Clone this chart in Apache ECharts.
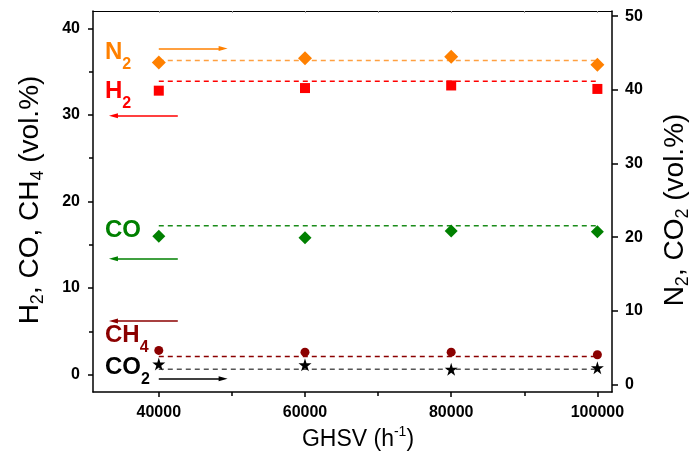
<!DOCTYPE html>
<html>
<head>
<meta charset="utf-8">
<script src="https://cdn.jsdelivr.net/npm/echarts@6/dist/echarts.min.js"></script>
<style>
  html, body { margin: 0; padding: 0; background: #fff; }
  #chart { width: 700px; height: 455px; }
</style>
</head>
<body>
<div id="chart"></div>
<script>
// GHSV values (h-1)
var ghsv = [40000, 60000, 80000, 100000];
// left axis: H2, CO, CH4 (vol.%)
var h2 = [32.8, 33.1, 33.4, 33.0];
var co = [16.0, 15.8, 16.6, 16.5];
var ch4 = [2.8, 2.6, 2.6, 2.3];
// right axis: N2, CO2 (vol.%)
var n2 = [43.7, 44.3, 44.5, 43.4];
var co2 = [2.8, 2.7, 2.1, 2.3];
// dashed guide levels
var h2Level = 33.9, coLevel = 17.2, ch4Level = 2.1, n2Level = 44.0, co2Level = 2.1;
// arrows [start, end] in data units
var arrowN2 = [[40000, 45.6], [48800, 45.6]];
var arrowH2 = [[42600, 29.9], [33800, 29.9]];
var arrowCO = [[42600, 13.4], [33800, 13.4]];
var arrowCH4 = [[42600, 6.2], [33800, 6.2]];
var arrowCO2 = [[40000, 0.8], [48800, 0.8]];
// ticks
var xMajor = [40000, 60000, 80000, 100000];
var xMinor = [50000, 70000, 90000];
var xTop = [40000, 50000, 60000, 70000, 80000, 90000, 100000];
var leftMajor = [0, 10, 20, 30, 40];
var leftMinor = [5, 15, 25, 35];
var rightMajor = [0, 10, 20, 30, 40, 50];

var FONT = "'Liberation Sans', Arial, sans-serif";
var starPath = 'path://M50,0 L61,35 L98,35 L68,57 L79,91 L50,70 L21,91 L32,57 L2,35 L39,35 Z';
var arrowHead = 'path://M5,0 L10,16 L0,16 Z';

var myChart = echarts.init(document.getElementById('chart'), null, { renderer: 'canvas' });

function pts(vals) {
  return ghsv.map(function (x, i) { return [x, vals[i]]; });
}
function dashLine(level, color, yIdx) {
  return {
    type: 'line', yAxisIndex: yIdx, silent: true, symbol: 'none', z: 2,
    data: [[ghsv[0], level], [ghsv[ghsv.length - 1], level]],
    lineStyle: { color: color, width: 1.5, type: [5, 4] }
  };
}
function marks(vals, symbol, size, color, yIdx) {
  return {
    type: 'scatter', yAxisIndex: yIdx, symbol: symbol, symbolSize: size, z: 3,
    data: pts(vals), itemStyle: { color: color, opacity: 1 }
  };
}
function arrow(coords, color, yIdx) {
  return {
    type: 'lines', coordinateSystem: 'cartesian2d', xAxisIndex: 0, yAxisIndex: yIdx,
    symbol: ['none', arrowHead], symbolSize: [1, [5, 9]], z: 4, silent: true,
    lineStyle: { color: color, width: 1.5, opacity: 1, curveness: 0 },
    data: [{ coords: coords }]
  };
}
function label(text, x, y, color) {
  return {
    type: 'text', x: x, y: y, silent: true,
    style: {
      text: text, fill: color, align: 'left', verticalAlign: 'middle',
      textAlign: 'left', textVerticalAlign: 'middle',
      rich: {
        m: { fontSize: 24, fontWeight: 'bold', fontFamily: FONT, fill: color },
        s: { fontSize: 16, fontWeight: 'bold', fontFamily: FONT, fill: color, padding: [26, 0, 0, 0] }
      }
    }
  };
}
function axisName(text, x, y, rot) {
  return {
    type: 'text', x: x, y: y, rotation: rot, silent: true,
    style: {
      text: text, fill: '#000', align: 'center', verticalAlign: 'middle',
      textAlign: 'center', textVerticalAlign: 'middle',
      rich: {
        m: { fontSize: 28, fontFamily: FONT, fill: '#000' },
        s: { fontSize: 18, fontFamily: FONT, fill: '#000', padding: [16, 0, 0, 0] },
        x: { fontSize: 23, fontFamily: FONT, fill: '#000' },
        u: { fontSize: 14, fontFamily: FONT, fill: '#000', padding: [0, 0, 16, 0] }
      }
    }
  };
}

var lineAx = { show: true, onZero: false, lineStyle: { color: '#000', width: 1.5 } };
var tickLbl = { fontSize: 16, fontWeight: 'bold', fontFamily: FONT, color: '#000' };
function plain(v) { return String(v); }

option = {
  animation: false,
  backgroundColor: '#fff',
  grid: { left: 93, right: 88, top: 11, bottom: 63, containLabel: false },
  xAxis: [
    {
      type: 'value', position: 'bottom', min: 31000, max: 102000,
      axisLine: lineAx, splitLine: { show: false },
      axisTick: { show: true, length: 5, customValues: xMajor, lineStyle: { color: '#000', width: 1.5 } },
      axisLabel: Object.assign({ margin: 13, customValues: xMajor, formatter: plain }, tickLbl)
    },
    {
      type: 'value', position: 'bottom', min: 31000, max: 102000,
      axisLine: { show: false, onZero: false }, splitLine: { show: false }, axisLabel: { show: false },
      axisTick: { show: true, length: 4, customValues: xMinor, lineStyle: { color: '#000', width: 1.5 } }
    },
    {
      type: 'value', position: 'top', min: 31000, max: 102000,
      axisLine: { show: true, onZero: false, lineStyle: { color: '#000', width: 1.2 } },
      splitLine: { show: false }, axisLabel: { show: false },
      axisTick: { show: true, inside: true, length: 2, customValues: xTop, lineStyle: { color: '#999', width: 1 } }
    }
  ],
  yAxis: [
    {
      type: 'value', position: 'left', min: -2, max: 42,
      axisLine: lineAx, splitLine: { show: false },
      axisTick: { show: true, length: 5, customValues: leftMajor, lineStyle: { color: '#000', width: 1.5 } },
      axisLabel: Object.assign({ margin: 13, customValues: leftMajor, formatter: plain }, tickLbl)
    },
    {
      type: 'value', position: 'right', min: -1, max: 50.7,
      axisLine: lineAx, splitLine: { show: false },
      axisTick: { show: true, length: 6, customValues: rightMajor, lineStyle: { color: '#000', width: 1.5 } },
      axisLabel: Object.assign({ margin: 13, customValues: rightMajor, formatter: plain }, tickLbl)
    },
    {
      type: 'value', position: 'left', min: -2, max: 42,
      axisLine: { show: false, onZero: false }, splitLine: { show: false }, axisLabel: { show: false },
      axisTick: { show: true, length: 4, customValues: leftMinor, lineStyle: { color: '#000', width: 1.5 } }
    }
  ],
  series: [
    dashLine(n2Level, '#ffa040', 1),
    dashLine(h2Level, '#ff0000', 0),
    dashLine(coLevel, '#1a8c1a', 0),
    dashLine(ch4Level, '#8b0000', 0),
    dashLine(co2Level, '#555555', 1),
    marks(n2, 'diamond', [14, 14], '#ff8000', 1),
    marks(h2, 'rect', [10, 10], '#ff0000', 0),
    marks(co, 'diamond', [13, 13], '#008000', 0),
    marks(ch4, 'circle', 9, '#8b0000', 0),
    marks(co2, starPath, 13, '#000000', 1),
    arrow(arrowN2, '#ff8000', 1),
    arrow(arrowH2, '#ff0000', 0),
    arrow(arrowCO, '#008000', 0),
    arrow(arrowCH4, '#8b0000', 0),
    arrow(arrowCO2, '#000000', 1)
  ],
  graphic: [
    label('{m|N}{s|2}', 105, 52, '#ff8000'),
    label('{m|H}{s|2}', 105, 91, '#ff0000'),
    label('{m|CO}', 105, 230, '#008000'),
    label('{m|CH}{s|4}', 105, 335, '#8b0000'),
    label('{m|CO}{s|2}', 105, 367, '#000000'),
    axisName('{m|H}{s|2}{m|, CO, CH}{s|4}{m| (vol.%)}', 30, 200, Math.PI / 2),
    axisName('{m|N}{s|2}{m|, CO}{s|2}{m| (vol.%)}', 675, 210, Math.PI / 2),
    axisName('{x|GHSV (h}{u|-1}{x|)}', 358, 440, 0)
  ]
};

myChart.setOption(option);
</script>
</body>
</html>
